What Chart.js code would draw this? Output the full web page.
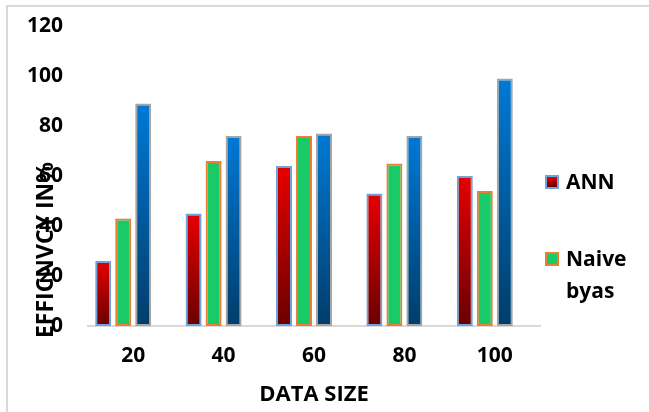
<!DOCTYPE html>
<html>
<head>
<meta charset="utf-8">
<script src="https://cdn.jsdelivr.net/npm/chart.js@4"></script>
<style>
  html, body { margin: 0; padding: 0; background: #fff; }
  #wrap { position: relative; width: 649px; height: 412px; }
  #frame { position: absolute; left: 6px; top: 5px; right: 0; bottom: 0; border-left: 2px solid #d9d9d9; border-top: 2px solid #d9d9d9; }
  canvas { position: absolute; left: 0; top: 0; }
  #legend { position: absolute; left: 545px; top: 0; font-family: 'Open Sans', sans-serif; font-weight: 700; font-size: 21px; color: #000; }
  .item { position: absolute; left: 0; white-space: nowrap; }
  .box { position: absolute; left: 0; width: 10px; height: 10px; border: 2px solid; }
  .txt { position: absolute; left: 21px; line-height: 32px; }
</style>
</head>
<body>
<div id="wrap">
  <div id="frame"></div>
  <canvas id="c" width="649" height="412"></canvas>
  <div id="legend"></div>
</div>
<script>
const categories = ['20', '40', '60', '80', '100'];
const annValues = [26, 45, 64, 53, 60];
const naiveValues = [43, 66, 76, 65, 54];
const series3Values = [89, 76, 77, 76, 99];
const series4Values = [0, 0, 0, 0, 0];
const yTicks = [0, 20, 40, 60, 80, 100, 120];
const seriesNames = ['ANN', 'Naive byas', 'Series3', 'Series4'];
const legendLines = [['ANN'], ['Naive', 'byas']];

const FONT = { family: "'Open Sans', sans-serif", weight: 'bold', size: 21 };
const TITLE_FONT = { family: "'Open Sans', sans-serif", weight: 'bold', size: 22 };

function gradientFill(top, bottom, fallback) {
  return function (ctx) {
    const chart = ctx.chart;
    const area = chart.chartArea;
    if (!area || ctx.type !== 'data') return fallback;
    const y = chart.scales.y;
    const v = ctx.raw;
    const yTop = y.getPixelForValue(v);
    const yBot = y.getPixelForValue(0);
    if (!isFinite(yTop) || yBot - yTop < 1) return fallback;
    const g = chart.ctx.createLinearGradient(0, yTop, 0, yBot);
    g.addColorStop(0, top);
    g.addColorStop(1, bottom);
    return g;
  };
}

const yTitlePlugin = {
  id: 'yTitle',
  afterDraw(chart) {
    const c = chart.ctx;
    c.save();
    c.translate(46, 250);
    c.rotate(-Math.PI / 2);
    c.font = "bold 23px 'Open Sans', sans-serif";
    c.fillStyle = '#000';
    c.textAlign = 'center';
    c.textBaseline = 'middle';
    c.fillText('EFFICNVCY IN%', 0, 0);
    c.restore();
  }
};

const chart = new Chart(document.getElementById('c'), {
  type: 'bar',
  data: {
    labels: categories,
    datasets: [
      { label: seriesNames[0], data: annValues, backgroundColor: gradientFill('#e60000', '#6a0000', '#c00000'), borderColor: '#6fa3dc', borderWidth: 2, borderSkipped: false },
      { label: seriesNames[1], data: naiveValues, backgroundColor: '#18cb68', borderColor: '#ed7d31', borderWidth: 2, borderSkipped: false },
      { label: seriesNames[2], data: series3Values, backgroundColor: gradientFill('#0079d6', '#003d6a', '#005aa0'), borderColor: '#a5a5a5', borderWidth: 2, borderSkipped: false },
      { label: seriesNames[3], data: series4Values, backgroundColor: 'rgba(0,0,0,0)', borderWidth: 0 }
    ]
  },
  options: {
    responsive: false,
    animation: false,
    devicePixelRatio: 1,
    datasets: { bar: { categoryPercentage: 0.885, barPercentage: 0.8 } },
    layout: { padding: { left: 0, right: 109, top: 26, bottom: 0 } },
    plugins: { legend: { display: false }, tooltip: { enabled: false } },
    scales: {
      x: {
        afterFit(scale) { scale.height = 86; scale.paddingLeft = 0; scale.paddingRight = 0; },
        grid: { display: false, drawTicks: false },
        border: { display: true, color: '#d9d9d9', width: 2 },
        ticks: { color: '#000', font: FONT, padding: 17, maxRotation: 0 },
        title: { display: true, text: 'DATA SIZE', color: '#000', font: TITLE_FONT, padding: { top: 12, bottom: 4 } }
      },
      y: {
        min: 0, max: 120,
        afterBuildTicks(scale) { scale.ticks = yTicks.map(v => ({ value: v })); },
        afterFit(scale) { scale.width = 88; scale.paddingTop = 0; scale.paddingBottom = 0; },
        grid: { display: false, drawTicks: false },
        border: { display: false },
        ticks: { color: '#000', font: FONT, padding: 25 }
      }
    }
  },
  plugins: [yTitlePlugin]
});

// HTML legend
const legendColors = [
  { bg: 'linear-gradient(#e60000, #6a0000)', border: '#6fa3dc' },
  { bg: '#18cb68', border: '#ed7d31' }
];
const legendTops = [165, 242];
const legend = document.getElementById('legend');
legendLines.forEach((lines, i) => {
  const item = document.createElement('div');
  item.className = 'item';
  item.style.top = legendTops[i] + 'px';
  const box = document.createElement('div');
  box.className = 'box';
  box.style.top = '10px';
  box.style.background = legendColors[i].bg;
  box.style.borderColor = legendColors[i].border;
  const txt = document.createElement('div');
  txt.className = 'txt';
  txt.innerHTML = lines.join('<br>');
  item.appendChild(box);
  item.appendChild(txt);
  legend.appendChild(item);
});
</script>
</body>
</html>
